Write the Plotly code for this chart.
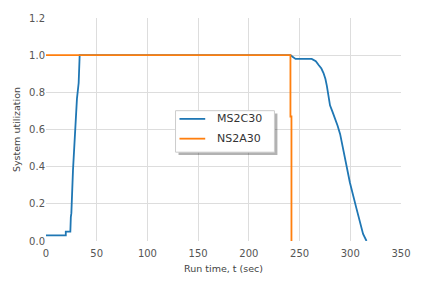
import plotly.graph_objects as go

ms_x = [0, 19.5, 19.5, 24, 24.5, 25, 26.6, 28.3, 30.5, 32.2, 33.2, 241, 246, 262,
        266, 268.8, 271.5, 273.6, 275.5, 276.9, 278.5, 280, 282.5, 285, 287.5, 290,
        294.7, 299.6, 306, 312.6, 316]
ms_y = [0.03, 0.03, 0.05, 0.05, 0.13, 0.15, 0.38, 0.56, 0.765, 0.85, 1.0, 1.0, 0.98, 0.98,
        0.968, 0.947, 0.928, 0.904, 0.872, 0.835, 0.78, 0.73, 0.695, 0.66, 0.62, 0.575,
        0.453, 0.315, 0.177, 0.038, 0.0]
ns_x = [0, 241, 241, 242, 242]
ns_y = [1.0, 1.0, 0.67, 0.67, 0.0]

series_names = ["MS2C30", "NS2A30"]
series_colors = ["#1f77b4", "#ff7f0e"]

x_ticks = [0, 50, 100, 150, 200, 250, 300, 350]
y_ticks = [0.0, 0.2, 0.4, 0.6, 0.8, 1.0, 1.2]

fig = go.Figure()
fig.add_trace(go.Scatter(x=ms_x, y=ms_y, mode="lines", name=series_names[0],
                         line=dict(color=series_colors[0], width=1.8)))
fig.add_trace(go.Scatter(x=ns_x, y=ns_y, mode="lines", name=series_names[1],
                         line=dict(color=series_colors[1], width=1.8)))

# manual legend (box with shadow)
bx0, bx1, by0, by1 = 0.3649, 0.6435, 0.3983, 0.5844
fig.add_shape(type="rect", xref="paper", yref="paper",
              x0=bx0 + 0.0084, x1=bx1 + 0.0084, y0=by0 - 0.013, y1=by1 - 0.013,
              fillcolor="rgba(0,0,0,0.3)", line=dict(width=0), layer="above")
fig.add_shape(type="rect", xref="paper", yref="paper",
              x0=bx0, x1=bx1, y0=by0, y1=by1,
              fillcolor="white", line=dict(color="#cccccc", width=1), layer="above")
row_y = [0.5476, 0.4589]
for name, color, yy in zip(series_names, series_colors, row_y):
    fig.add_shape(type="line", xref="paper", yref="paper",
                  x0=0.376, x1=0.4485, y0=yy, y1=yy,
                  line=dict(color=color, width=1.8), layer="above")
    fig.add_annotation(xref="paper", yref="paper", x=0.4763, y=yy, text=name,
                       showarrow=False, xanchor="left", yanchor="middle",
                       font=dict(size=11, color="#333"))

fig.update_layout(
    width=423, height=285,
    margin=dict(l=46, r=18, t=13, b=41),
    paper_bgcolor="white", plot_bgcolor="white",
    font=dict(family="DejaVu Sans", color="#444"),
    showlegend=False,
    xaxis=dict(range=[0, 350], tickvals=x_ticks, ticktext=[str(v) for v in x_ticks],
               showgrid=True, gridcolor="#dddddd", gridwidth=1, zeroline=False,
               showline=False, ticks="outside", ticklen=3, tickcolor="rgba(0,0,0,0)",
               tickfont=dict(size=10, color="#555"),
               title=dict(text="Run time, t (sec)", font=dict(size=9.5, color="#444"), standoff=7)),
    yaxis=dict(range=[0, 1.2], tickvals=y_ticks, ticktext=[f"{v:.1f}" for v in y_ticks],
               showgrid=True, gridcolor="#dddddd", gridwidth=1, zeroline=False,
               showline=False, ticks="", tickfont=dict(size=10, color="#555"),
               title=dict(text="System utilization", font=dict(size=9.5, color="#444"), standoff=6)),
)

fig.write_html("out.html")
